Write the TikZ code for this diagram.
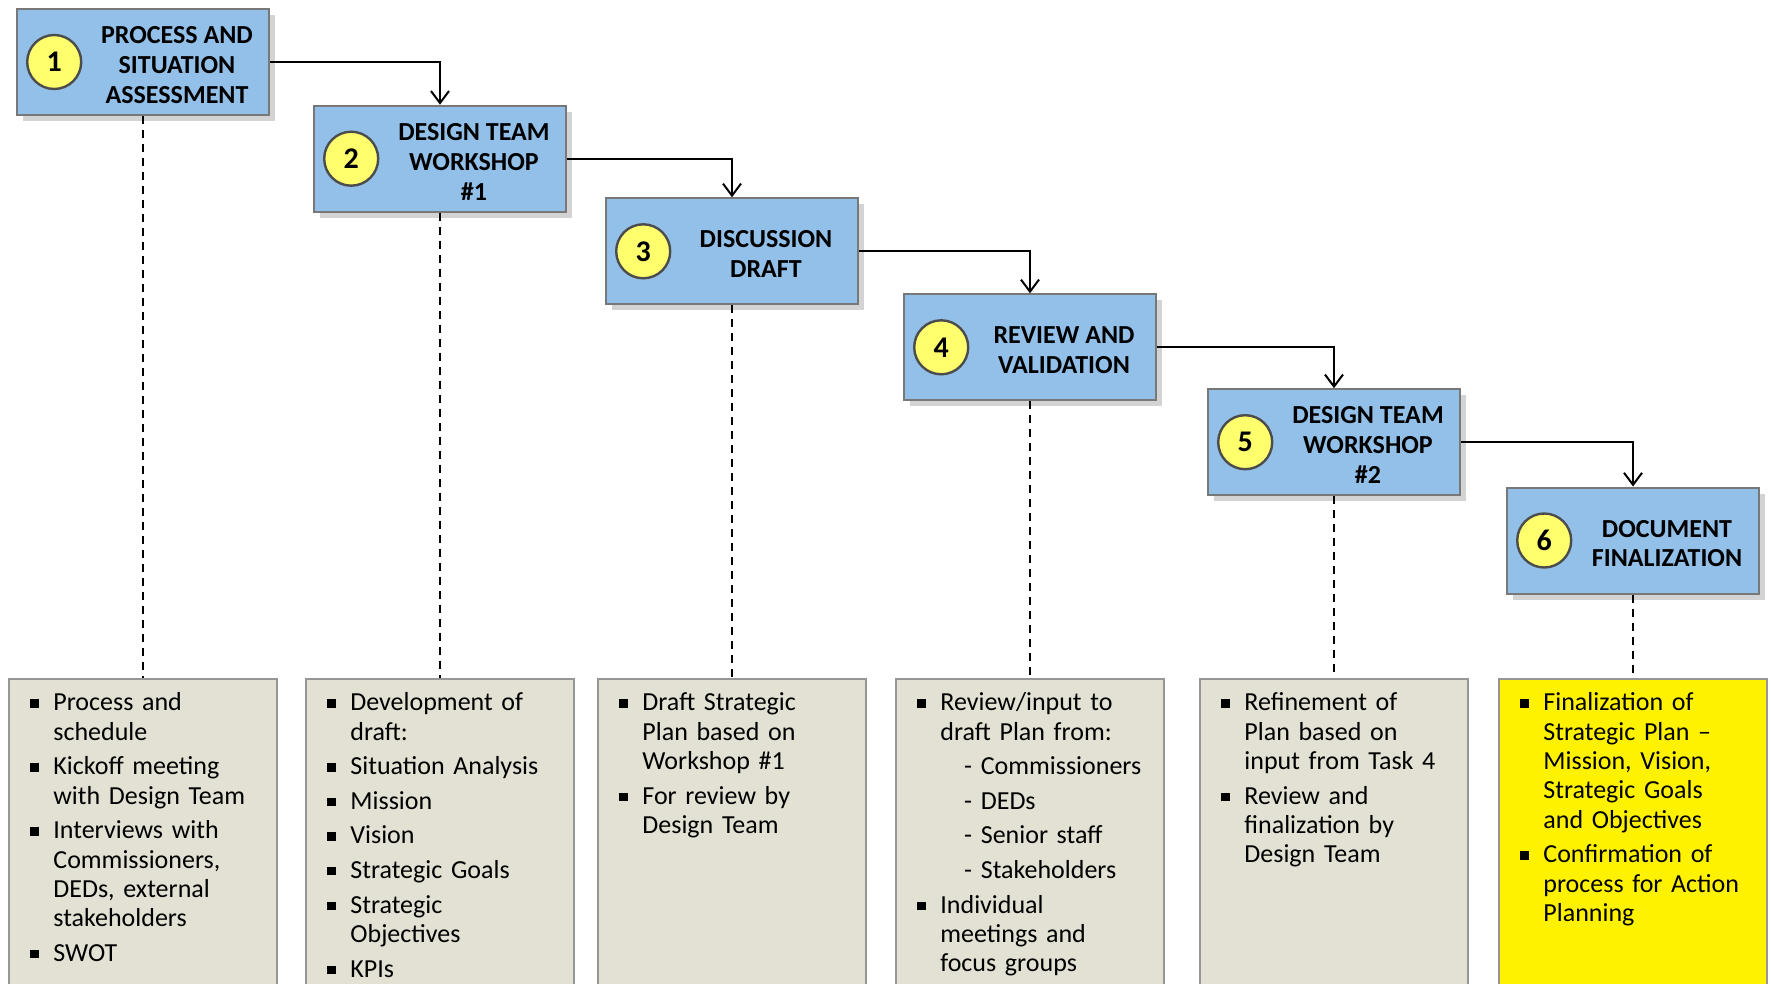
\documentclass[tikz,border=0pt]{standalone}
\usepackage{fontspec}
\setmainfont{Carlito}
\usepackage{enumitem}
\usetikzlibrary{positioning, shadows, arrows.meta}

\definecolor{headblue}{RGB}{146,192,233}
\definecolor{headgray}{RGB}{120,120,120}
\definecolor{numyellow}{RGB}{255,255,110}
\definecolor{notebeige}{RGB}{227,225,211}
\definecolor{notegray}{RGB}{150,150,150}

\newcommand{\sqbullet}{\rule[1.5pt]{4.2pt}{4.2pt}}
\setlist[itemize]{label=\sqbullet, align=left, leftmargin=22.5pt, labelwidth=4.2pt, labelsep=7.3pt, itemsep=2.6pt, parsep=0pt, topsep=0pt, partopsep=0pt}

\begin{document}
\begin{tikzpicture}[x=0.5pt, y=-0.5pt,
    head node/.style={rectangle, draw=headgray, line width=1pt, fill=headblue, minimum width=126pt, minimum height=53pt, drop shadow={shadow xshift=3pt, shadow yshift=-3pt, opacity=.35}},
    num node/.style={circle, draw=black!70, line width=1.2pt, fill=numyellow, minimum size=27pt, inner sep=0pt, font=\fontsize{15}{15}\selectfont\bfseries},
    title node/.style={align=center, inner sep=0pt, font=\fontsize{13}{14.9}\selectfont\bfseries},
    note node/.style={rectangle, draw=notegray, line width=1pt, fill=notebeige, minimum width=134pt, minimum height=170pt, anchor=north},
    text node/.style={anchor=north west, inner sep=0pt, text width=150pt, align=left, font=\fontsize{13}{14.7}\selectfont},
    step line/.style={line width=1pt, -{Straight Barb[length=6pt, width=9pt]}},
    drop line/.style={line width=0.9pt, dash pattern=on 4pt off 3pt}]
\useasboundingbox (0,0) rectangle (1771,984);
\clip (0,0) rectangle (1771,984);

\node[head node] (h1) at (143,62) {};
\node[head node] (h2) at (440,158.7) {};
\node[head node] (h3) at (732,251.3) {};
\node[head node] (h4) at (1030,347.3) {};
\node[head node] (h5) at (1334,442.2) {};
\node[head node] (h6) at (1633,540.5) {};

\node[num node, right=5pt of h1.west] (n1) {1};
\node[num node, right=5pt of h2.west] (n2) {2};
\node[num node, right=5pt of h3.west] (n3) {3};
\node[num node, right=5pt of h4.west] (n4) {4};
\node[num node, right=5pt of h5.west] (n5) {5};
\node[num node, right=5pt of h6.west] (n6) {6};

\node[title node] (l1) at ([xshift=17pt, yshift=-1.5pt]h1.center) {PROCESS AND\\SITUATION\\ASSESSMENT};
\node[title node] (l2) at ([xshift=17pt, yshift=-1.5pt]h2.center) {DESIGN TEAM\\WORKSHOP\\\#1};
\node[title node] (l3) at ([xshift=17pt, yshift=-1.5pt]h3.center) {DISCUSSION\\DRAFT};
\node[title node] (l4) at ([xshift=17pt, yshift=-1.5pt]h4.center) {REVIEW AND\\VALIDATION};
\node[title node] (l5) at ([xshift=17pt, yshift=-1.5pt]h5.center) {DESIGN TEAM\\WORKSHOP\\\#2};
\node[title node] (l6) at ([xshift=17pt, yshift=-1.5pt]h6.center) {DOCUMENT\\FINALIZATION};

\draw[step line] (h1.east) -| (h2.north);
\draw[step line] (h2.east) -| (h3.north);
\draw[step line] (h3.east) -| (h4.north);
\draw[step line] (h4.east) -| (h5.north);
\draw[step line] (h5.east) -| (h6.north);

\node[note node] (b1) at (143,678) {};
\node[note node] (b2) at (440,678) {};
\node[note node] (b3) at (732,678) {};
\node[note node] (b4) at (1030,678) {};
\node[note node] (b5) at (1334,678) {};
\node[note node, fill=yellow] (b6) at (1633,678) {};

\draw[drop line] (h1.south) -- (b1.north);
\draw[drop line] (h2.south) -- (b2.north);
\draw[drop line] (h3.south) -- (b3.north);
\draw[drop line] (h4.south) -- (b4.north);
\draw[drop line] (h5.south) -- (b5.north);
\draw[drop line] (h6.south) -- (b6.north);

\node[text node, below right=1.4pt and 0pt of b1.north west] (t1) {%
\begin{itemize}
\item Process and\\schedule
\item Kickoff meeting\\with Design Team
\item Interviews with\\Commissioners,\\DEDs, external\\stakeholders
\item SWOT
\end{itemize}};
\node[text node, below right=1.4pt and 0pt of b2.north west] (t2) {%
\begin{itemize}
\item Development of\\draft:
\item Situation Analysis
\item Mission
\item Vision
\item Strategic Goals
\item Strategic\\Objectives
\item KPIs
\end{itemize}};
\node[text node, below right=1.4pt and 0pt of b3.north west] (t3) {%
\begin{itemize}
\item Draft Strategic\\Plan based on\\Workshop \#1
\item For review by\\Design Team
\end{itemize}};
\node[text node, below right=1.4pt and 0pt of b4.north west] (t4) {%
\begin{itemize}
\item Review/input to\\draft Plan from:
\item[] \hspace{11.9pt}- Commissioners
\item[] \hspace{11.9pt}- DEDs
\item[] \hspace{11.9pt}- Senior staff
\item[] \hspace{11.9pt}- Stakeholders
\item Individual\\meetings and\\focus groups
\end{itemize}};
\node[text node, below right=1.4pt and 0pt of b5.north west] (t5) {%
\begin{itemize}
\item Refinement of\\Plan based on\\input from Task 4
\item Review and\\finalization by\\Design Team
\end{itemize}};
\node[text node, below right=1.4pt and 0pt of b6.north west] (t6) {%
\begin{itemize}
\item Finalization of\\Strategic Plan --\\Mission, Vision,\\Strategic Goals\\and Objectives
\item Confirmation of\\process for Action\\Planning
\end{itemize}};
\end{tikzpicture}
\end{document}
